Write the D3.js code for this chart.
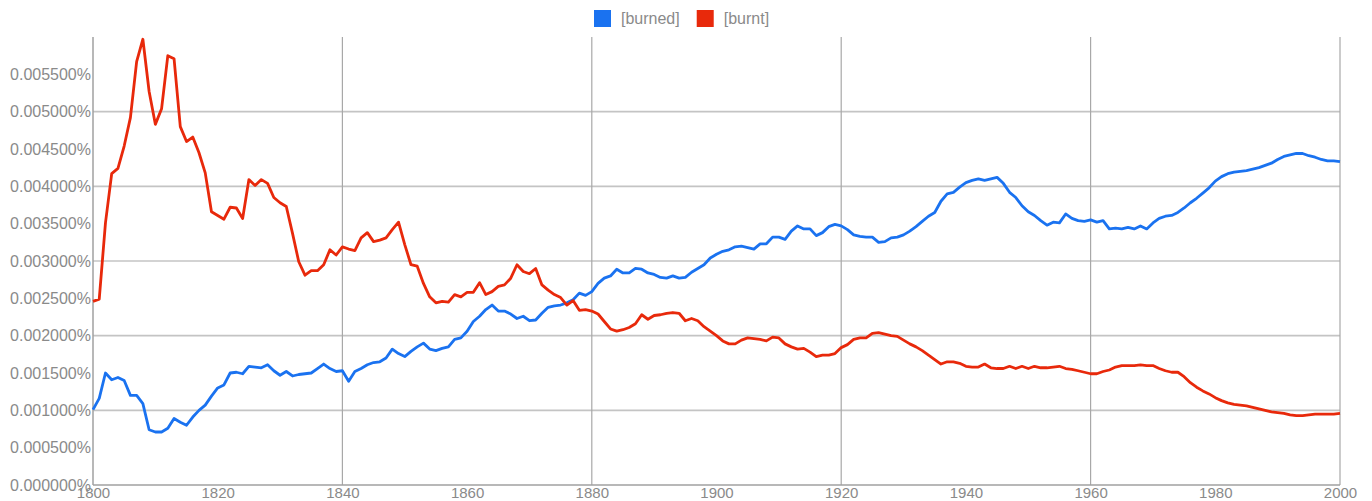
<!DOCTYPE html>
<html>
<head>
<meta charset="utf-8">
<script src="https://cdn.jsdelivr.net/npm/d3@7"></script>
<style>
  html, body { margin: 0; padding: 0; background: #fff; }
  svg { display: block; font-family: "Liberation Sans", Arial, Helvetica, sans-serif; }
</style>
</head>
<body>
<div id="chart"></div>
<script>
// data (percent of corpus, one value per year 1800-2000)
const years = d3.range(1800, 2001);
const seriesNames = ['[burned]', '[burnt]'];
const seriesColors = ['#1a72f0', '#e8290b'];

const burned = [
  0.00101, 0.00116, 0.00150, 0.00141, 0.00144, 0.00140, 0.00120, 0.00120, 0.00109, 0.00074,
  0.00071, 0.00071, 0.00076, 0.00089, 0.00084, 0.00080, 0.00091, 0.00100, 0.00107, 0.00119,
  0.00130, 0.00134, 0.00150, 0.00151, 0.00149, 0.00159, 0.00158, 0.00157, 0.00161, 0.00153,
  0.00147, 0.00152, 0.00146, 0.00148, 0.00149, 0.00150, 0.00156, 0.00162, 0.00156, 0.00152,
  0.00153, 0.00139, 0.00152, 0.00156, 0.00161, 0.00164, 0.00165, 0.00170, 0.00182, 0.00176,
  0.00172, 0.00179, 0.00185, 0.00190, 0.00182, 0.00180, 0.00183, 0.00185, 0.00195, 0.00197,
  0.00206, 0.00219, 0.00226, 0.00235, 0.00241, 0.00233, 0.00233, 0.00229, 0.00223, 0.00226,
  0.00220, 0.00221, 0.00230, 0.00238, 0.00240, 0.00241, 0.00244, 0.00248, 0.00257, 0.00254,
  0.00259, 0.00270, 0.00277, 0.00280, 0.00289, 0.00284, 0.00284, 0.00290, 0.00289, 0.00284,
  0.00282, 0.00278, 0.00277, 0.00280, 0.00277, 0.00278, 0.00285, 0.00290, 0.00295, 0.00304,
  0.00309, 0.00313, 0.00315, 0.00319, 0.00320, 0.00318, 0.00316, 0.00323, 0.00323, 0.00332,
  0.00332, 0.00329, 0.00340, 0.00347, 0.00343, 0.00343, 0.00334, 0.00338, 0.00346, 0.00349,
  0.00347, 0.00342, 0.00335, 0.00333, 0.00332, 0.00332, 0.00325, 0.00326, 0.00331, 0.00332,
  0.00335, 0.00340, 0.00346, 0.00353, 0.00360, 0.00365, 0.00380, 0.00390, 0.00392, 0.00399,
  0.00405, 0.00408, 0.00410, 0.00408, 0.00410, 0.00412, 0.00404, 0.00392, 0.00385, 0.00374,
  0.00366, 0.00361, 0.00354, 0.00348, 0.00352, 0.00351, 0.00363, 0.00357, 0.00354, 0.00353,
  0.00355, 0.00352, 0.00354, 0.00343, 0.00344, 0.00343, 0.00345, 0.00343, 0.00347, 0.00343,
  0.00351, 0.00357, 0.00360, 0.00361, 0.00365, 0.00371, 0.00378, 0.00384, 0.00391, 0.00398,
  0.00407, 0.00413, 0.00417, 0.00419, 0.00420, 0.00421, 0.00423, 0.00425, 0.00428, 0.00431,
  0.00436, 0.00440, 0.00442, 0.00444, 0.00444, 0.00441, 0.00439, 0.00436, 0.00434, 0.00434,
  0.00433
];

const burnt = [
  0.00246, 0.00249, 0.00351, 0.00417, 0.00424, 0.00454, 0.00492, 0.00567, 0.00597, 0.00527,
  0.00483, 0.00504, 0.00575, 0.00571, 0.00480, 0.00460, 0.00466, 0.00445, 0.00418, 0.00366,
  0.00361, 0.00356, 0.00372, 0.00371, 0.00357, 0.00409, 0.00401, 0.00409, 0.00404, 0.00385,
  0.00378, 0.00373, 0.00337, 0.00299, 0.00281, 0.00287, 0.00287, 0.00295, 0.00315, 0.00308,
  0.00319, 0.00316, 0.00314, 0.00331, 0.00338, 0.00326, 0.00328, 0.00331, 0.00342, 0.00352,
  0.00322, 0.00295, 0.00293, 0.00270, 0.00252, 0.00244, 0.00246, 0.00245, 0.00255, 0.00252,
  0.00258, 0.00258, 0.00271, 0.00255, 0.00259, 0.00266, 0.00268, 0.00277, 0.00295, 0.00286,
  0.00283, 0.00290, 0.00268, 0.00261, 0.00255, 0.00251, 0.00241, 0.00247, 0.00234, 0.00235,
  0.00233, 0.00229, 0.00219, 0.00209, 0.00206, 0.00208, 0.00211, 0.00216, 0.00228, 0.00222,
  0.00227, 0.00228, 0.00230, 0.00231, 0.00230, 0.00220, 0.00223, 0.00220, 0.00212, 0.00206,
  0.00200, 0.00193, 0.00189, 0.00189, 0.00194, 0.00197, 0.00196, 0.00195, 0.00193, 0.00198,
  0.00197, 0.00189, 0.00185, 0.00182, 0.00183, 0.00178, 0.00172, 0.00174, 0.00174, 0.00176,
  0.00184, 0.00188, 0.00195, 0.00197, 0.00197, 0.00203, 0.00204, 0.00202, 0.00200, 0.00199,
  0.00194, 0.00189, 0.00185, 0.00180, 0.00174, 0.00168, 0.00162, 0.00165, 0.00165, 0.00163,
  0.00159, 0.00158, 0.00158, 0.00162, 0.00157, 0.00156, 0.00156, 0.00159, 0.00156, 0.00159,
  0.00156, 0.00159, 0.00157, 0.00157, 0.00158, 0.00159, 0.00156, 0.00155, 0.00153, 0.00151,
  0.00149, 0.00149, 0.00152, 0.00154, 0.00158, 0.00160, 0.00160, 0.00160, 0.00161, 0.00160,
  0.00160, 0.00156, 0.00153, 0.00151, 0.00151, 0.00145, 0.00137, 0.00131, 0.00126, 0.00122,
  0.00117, 0.00113, 0.00110, 0.00108, 0.00107, 0.00106, 0.00104, 0.00102, 0.00100, 0.00098,
  0.00097, 0.00096, 0.00094, 0.00093, 0.00093, 0.00094, 0.00095, 0.00095, 0.00095, 0.00095,
  0.00096
];

// ticks
const yTickValues = [0, 0.0005, 0.001, 0.0015, 0.002, 0.0025, 0.003, 0.0035, 0.004, 0.0045, 0.005, 0.0055];
const yGridValues = [0.001, 0.002, 0.003, 0.004, 0.005];
const xTickValues = [1800, 1820, 1840, 1860, 1880, 1900, 1920, 1940, 1960, 1980, 2000];
const xGridValues = [1840, 1880, 1920, 1960, 2000];

// dimensions
const WIDTH = 1372;
const HEIGHT = 501;
const MARGIN_TOP = 37;
const MARGIN_BOTTOM = 16;
const MARGIN_LEFT = 93;
const MARGIN_RIGHT = 32;

const $svg = d3.select('#chart').append('svg')
  .attr('width', WIDTH)
  .attr('height', HEIGHT);

const scaleX = d3.scaleLinear()
  .domain([1800, 2000])
  .range([MARGIN_LEFT, WIDTH - MARGIN_RIGHT]);

const scaleY = d3.scaleLinear()
  .domain([0, 0.006])
  .range([HEIGHT - MARGIN_BOTTOM, MARGIN_TOP]);

// grid
const $grid = $svg.append('g').attr('class', 'g-grid');

$grid.selectAll('line.h')
  .data(yGridValues)
  .join('line')
  .attr('class', 'h')
  .attr('x1', scaleX(1800))
  .attr('x2', scaleX(2000))
  .attr('y1', d => scaleY(d))
  .attr('y2', d => scaleY(d))
  .attr('stroke', '#c4c4c4')
  .attr('stroke-width', 1.6);

$grid.selectAll('line.v')
  .data(xGridValues)
  .join('line')
  .attr('class', 'v')
  .attr('x1', d => scaleX(d))
  .attr('x2', d => scaleX(d))
  .attr('y1', scaleY(0))
  .attr('y2', MARGIN_TOP)
  .attr('stroke', '#a8a8a8')
  .attr('stroke-width', 1.2);

// axes
const axisY = d3.axisLeft(scaleY)
  .tickValues(yTickValues)
  .tickSize(0)
  .tickPadding(2)
  .tickFormat(d => d3.format('.6f')(d) + '%');

const axisX = d3.axisBottom(scaleX)
  .tickValues(xTickValues)
  .tickSize(0)
  .tickPadding(2)
  .tickFormat(d3.format('d'));

const $axisY = $svg.append('g')
  .attr('transform', `translate(${MARGIN_LEFT}, 0)`)
  .call(axisY);

const $axisX = $svg.append('g')
  .attr('transform', `translate(0, ${scaleY(0)})`)
  .call(axisX);

$axisY.select('.domain').remove();
$axisX.select('.domain').remove();
$axisY.selectAll('text').attr('fill', '#8a8a8a').style('font-size', '16px');
$axisX.selectAll('text').attr('fill', '#8a8a8a').style('font-size', '15px');

// axis lines
$svg.append('line')
  .attr('x1', scaleX(1800)).attr('x2', scaleX(1800))
  .attr('y1', MARGIN_TOP).attr('y2', scaleY(0))
  .attr('stroke', '#a0a0a0').attr('stroke-width', 1.5);

$svg.append('line')
  .attr('x1', scaleX(1800)).attr('x2', scaleX(2000))
  .attr('y1', scaleY(0)).attr('y2', scaleY(0))
  .attr('stroke', '#a0a0a0').attr('stroke-width', 1.5);

// lines
const line = d3.line()
  .x((d, i) => scaleX(years[i]))
  .y(d => scaleY(d));

const $vis = $svg.append('g').attr('class', 'g-vis');

$vis.selectAll('path')
  .data([burned, burnt])
  .join('path')
  .attr('d', line)
  .attr('fill', 'none')
  .attr('stroke', (d, i) => seriesColors[i])
  .attr('stroke-width', 2.8)
  .attr('stroke-linejoin', 'round');

// legend
const $legend = $svg.append('g').attr('class', 'g-legend');
let lx = 594;
seriesNames.forEach((name, i) => {
  $legend.append('rect')
    .attr('x', lx)
    .attr('y', 10)
    .attr('width', 17)
    .attr('height', 17)
    .attr('fill', seriesColors[i]);
  const $t = $legend.append('text')
    .attr('x', lx + 27)
    .attr('y', 24)
    .attr('fill', '#8a8a8a')
    .style('font-size', '16px')
    .text(name);
  lx += 27 + $t.node().getComputedTextLength() + 17;
});
</script>
</body>
</html>
